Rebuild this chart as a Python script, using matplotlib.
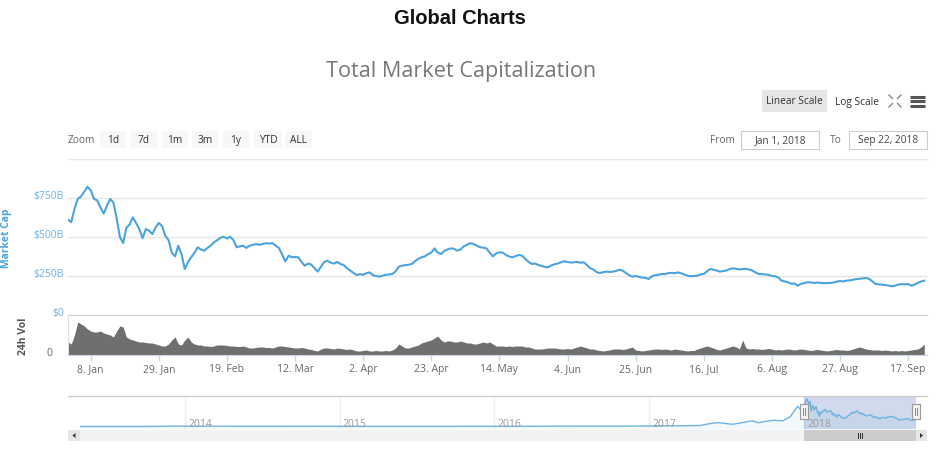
import pandas as pd
import matplotlib
matplotlib.use("Agg")
import matplotlib.pyplot as plt
import matplotlib.dates as mdates
from matplotlib.patches import Rectangle, Polygon
from matplotlib.transforms import ScaledTranslation

# ---------------- data ----------------
# total market cap, $B, daily from 1 Jan 2018
mcap = [611, 595, 680, 744, 760, 790, 822, 800, 744, 735,
        690, 650, 700, 744, 720, 620, 500, 461, 560, 580,
        626, 590, 550, 492, 551, 540, 519, 560, 590, 570,
        508, 480, 400, 376, 444, 390, 295, 340, 370, 400,
        434, 420, 412, 430, 445, 466, 480, 495, 502, 490,
        502, 480, 434, 440, 444, 430, 445, 449, 455, 450,
        455, 460, 458, 461, 445, 430, 390, 344, 380, 370,
        372, 370, 340, 316, 330, 323, 300, 278, 310, 340,
        348, 335, 330, 340, 327, 320, 300, 285, 270, 256,
        262, 258, 268, 273, 255, 250, 246, 252, 258, 260,
        263, 280, 310, 316, 320, 322, 327, 345, 360, 370,
        376, 390, 400, 427, 400, 391, 410, 420, 427, 425,
        412, 420, 440, 450, 461, 455, 445, 434, 432, 427,
        400, 376, 395, 402, 400, 385, 375, 370, 378, 385,
        380, 360, 340, 327, 330, 320, 315, 308, 306, 318,
        325, 330, 338, 344, 340, 336, 338, 340, 335, 338,
        320, 300, 291, 275, 269, 275, 278, 276, 278, 282,
        291, 284, 270, 255, 246, 250, 245, 240, 238, 231,
        248, 255, 258, 263, 262, 268, 270, 268, 273, 268,
        260, 252, 248, 250, 252, 260, 263, 280, 295, 290,
        285, 278, 282, 285, 295, 299, 296, 292, 295, 296,
        291, 285, 272, 263, 262, 260, 258, 250, 248, 240,
        220, 215, 210, 200, 202, 188, 200, 205, 210, 209,
        205, 208, 206, 204, 205, 205, 208, 214, 218, 215,
        220, 222, 226, 230, 232, 235, 237, 232, 215, 199,
        196, 195, 192, 188, 184, 188, 195, 198, 196, 199,
        188, 195, 205, 215, 220]

# 24h volume, $B, daily
vol = [26, 22, 40, 66, 62, 58, 52, 48, 46, 46,
       48, 44, 42, 40, 36, 48, 58, 56, 36, 32,
       30, 28, 26, 26, 25, 24, 24, 22, 20, 18,
       18, 22, 30, 36, 22, 20, 30, 36, 26, 22,
       20, 20, 18, 18, 17, 18, 20, 20, 20, 19,
       18, 18, 17, 17, 18, 16, 14, 14, 15, 16,
       16, 15, 15, 14, 16, 18, 18, 17, 16, 15,
       14, 14, 15, 14, 12, 11, 9, 8, 12, 14,
       14, 13, 12, 14, 13, 12, 11, 12, 10, 8,
       8, 9, 10, 8, 8, 9, 8, 8, 9, 8,
       10, 14, 22, 18, 14, 14, 16, 18, 20, 24,
       26, 28, 30, 34, 38, 30, 26, 28, 28, 26,
       26, 28, 26, 24, 24, 22, 22, 24, 26, 24,
       26, 22, 18, 18, 18, 17, 18, 17, 18, 18,
       18, 16, 16, 14, 12, 12, 12, 13, 14, 14,
       14, 13, 12, 12, 13, 12, 14, 16, 18, 16,
       14, 12, 12, 10, 9, 8, 9, 10, 12, 12,
       12, 11, 12, 14, 16, 10, 9, 8, 9, 10,
       11, 12, 12, 11, 12, 11, 10, 12, 11, 10,
       9, 8, 9, 9, 12, 14, 16, 18, 16, 14,
       11, 10, 12, 14, 16, 18, 16, 12, 30, 14,
       12, 13, 12, 12, 11, 12, 13, 12, 10, 11,
       10, 11, 12, 11, 10, 11, 12, 11, 10, 9,
       10, 11, 10, 9, 8, 9, 10, 11, 10, 10,
       9, 10, 12, 14, 16, 14, 12, 11, 10, 10,
       10, 9, 10, 9, 8, 9, 8, 9, 8, 9,
       10, 11, 12, 16, 22]

# older history for the navigator, $B
hist_dates = ["2013-04-28", "2013-06-01", "2013-08-01", "2013-10-01", "2013-11-15",
              "2013-12-04", "2014-01-01", "2014-03-01", "2014-06-01", "2014-09-01",
              "2014-12-01", "2015-03-01", "2015-06-01", "2015-09-01", "2015-12-01",
              "2016-03-01", "2016-06-15", "2016-09-01", "2016-12-01", "2017-01-05",
              "2017-03-01", "2017-04-01", "2017-05-01", "2017-05-25", "2017-06-12",
              "2017-07-16", "2017-08-01", "2017-09-01", "2017-09-15", "2017-10-01",
              "2017-10-20", "2017-11-12", "2017-11-30", "2017-12-08", "2017-12-17",
              "2017-12-22", "2017-12-31"]
hist_mcap = [1.5, 1.3, 1.2, 1.6, 5, 15, 10, 8, 8, 6.5,
             5.5, 3.8, 3.5, 3.9, 5.9, 6.9, 11.5, 10.8, 12.8, 17.7,
             21.5, 25, 30, 90, 115, 65, 100, 170, 110, 150,
             185, 170, 300, 450, 600, 520, 600]

mcap_ticks = [0, 250, 500, 750, 1000]
mcap_tick_labels = ["$0", "$250B", "$500B", "$750B", ""]
x_tick_dates = ["2018-01-08", "2018-01-29", "2018-02-19", "2018-03-12", "2018-04-02",
                "2018-04-23", "2018-05-14", "2018-06-04", "2018-06-25", "2018-07-16",
                "2018-08-06", "2018-08-27", "2018-09-17"]
x_tick_labels = ["8. Jan", "29. Jan", "19. Feb", "12. Mar", "2. Apr", "23. Apr", "14. May",
                 "4. Jun", "25. Jun", "16. Jul", "6. Aug", "27. Aug", "17. Sep"]
nav_years = [2014, 2015, 2016, 2017, 2018]
zoom_buttons = ["1d", "7d", "1m", "3m", "1y", "YTD", "ALL"]

dates = pd.date_range("2018-01-01", periods=len(mcap), freq="D")
nav_x = list(pd.to_datetime(hist_dates)) + list(dates)
nav_y = hist_mcap + mcap

BLUE = "#4aa3df"
UI = "Open Sans"

W, H = 939, 452
fig = plt.figure(figsize=(W / 100, H / 100), dpi=100)


def px_axes(x0, y0, x1, y1):
    return fig.add_axes([x0 / W, 1 - y1 / H, (x1 - x0) / W, (y1 - y0) / H])


# overlay in pixel coordinates for the page furniture
ui = fig.add_axes([0, 0, 1, 1])
ui.set_xlim(0, W)
ui.set_ylim(H, 0)
ui.axis("off")

ui.text(460, 19, "Global Charts", ha="center", va="center", fontsize=14.5,
        fontweight="bold", family="Liberation Sans", color="#111")
ui.text(461, 72, "Total Market Capitalization", ha="center", va="center",
        fontsize=15.6, family=UI, color="#777")

# scale buttons + icons
ui.add_patch(Rectangle((762, 91), 65, 22, color="#e6e6e6", lw=0))
ui.text(794.5, 102, "Linear Scale", ha="center", va="center", fontsize=7.3, family=UI, color="#333")
ui.text(857, 102, "Log Scale", ha="center", va="center", fontsize=7.3, family=UI, color="#333")
for sx, sy in [(-1, -1), (1, -1), (-1, 1), (1, 1)]:
    cx, cy = 895, 102
    ui.plot([cx + sx * 2.5, cx + sx * 6], [cy + sy * 2.5, cy + sy * 6], color="#888", lw=1)
for yy in [97.5, 102, 106.5]:
    ui.plot([910, 925], [yy, yy], color="#555", lw=2.2, solid_capstyle="butt")

# zoom buttons
ui.text(68, 140.5, "Zoom", ha="left", va="center", fontsize=7.3, family=UI, color="#666")
bx = [100, 131, 162, 192, 223, 254, 285]
bw = [26, 26, 26, 26, 26, 28, 27]
for lab, x0, w in zip(zoom_buttons, bx, bw):
    ui.add_patch(Rectangle((x0, 132), w, 17, color="#f7f7f7", lw=0))
    ui.text(x0 + w / 2, 140.5, lab, ha="center", va="center", fontsize=7.3, family=UI, color="#333")

# date inputs
ui.text(735, 140.5, "From", ha="right", va="center", fontsize=7.3, family=UI, color="#666")
ui.add_patch(Rectangle((741, 132), 78, 18, facecolor="white", edgecolor="#cccccc", lw=0.8))
ui.text(780, 141, "Jan 1, 2018", ha="center", va="center", fontsize=7.3, family=UI, color="#444")
ui.text(842, 140.5, "To", ha="right", va="center", fontsize=7.3, family=UI, color="#666")
ui.add_patch(Rectangle((849, 132), 78, 18, facecolor="white", edgecolor="#cccccc", lw=0.8))
ui.text(888, 141, "Sep 22, 2018", ha="center", va="center", fontsize=7.3, family=UI, color="#444")

# axis titles
ui.text(6.5, 238, "Market Cap", rotation=90, ha="center", va="center", fontsize=7.5,
        fontweight="bold", family=UI, color=BLUE)
ui.text(23, 336, "24h Vol", rotation=90, ha="center", va="center", fontsize=7.5,
        fontweight="bold", family=UI, color="#555")

x_start = pd.Timestamp("2018-01-01")
x_end = pd.Timestamp("2018-09-22 20:00")
up = ScaledTranslation(0, 0.04, fig.dpi_scale_trans)

# ---------------- market cap pane ----------------
ax = px_axes(68, 160, 927, 316)
ax.plot(dates, mcap, color=BLUE, lw=1.5)
ax.set_xlim(x_start, x_end)
ax.set_ylim(0, 1000)
ax.set_yticks(mcap_ticks)
ax.set_yticklabels(mcap_tick_labels)
ax.set_xticks([])
ax.grid(axis="y", color="#e6e6e6", lw=1)
ax.set_axisbelow(True)
ax.tick_params(axis="y", length=0, pad=3, labelsize=7.5, labelcolor="#6fb0e6")
for lbl in ax.get_yticklabels():
    lbl.set_family(UI)
    lbl.set_transform(lbl.get_transform() + up)
for s in ["left", "right"]:
    ax.spines[s].set_visible(False)
ax.spines["top"].set_color("#e6e6e6")
ax.spines["bottom"].set_color("#cccccc")
ax.patch.set_alpha(0)

# ---------------- volume pane ----------------
vx = px_axes(68, 316, 927, 356)
vx.fill_between(dates, vol, color="#6f6f6f", lw=0)
vx.set_xlim(x_start, x_end)
vx.set_ylim(0, 80)
vx.set_yticks([0])
vx.set_yticklabels(["0"])
vx.tick_params(axis="y", length=0, pad=11, labelsize=7.5, labelcolor="#666")
for lbl in vx.get_yticklabels():
    lbl.set_family(UI)
    lbl.set_transform(lbl.get_transform() + up)
vx.set_xticks(pd.to_datetime(x_tick_dates))
vx.set_xticklabels(x_tick_labels)
vx.tick_params(axis="x", length=4, width=1, color="#ccd6eb", pad=2, labelsize=7.5, labelcolor="#666")
for lbl in vx.get_xticklabels():
    lbl.set_family(UI)
for s in ["top", "right"]:
    vx.spines[s].set_visible(False)
vx.spines["left"].set_color("#e0e0e0")
vx.spines["bottom"].set_color("#ccd6eb")
vx.patch.set_alpha(0)

# ---------------- navigator ----------------
nx = px_axes(80, 397, 916, 430)
nav_start = pd.Timestamp("2013-04-28")
nav_end = dates[-1]
nx.set_xlim(nav_start, nav_end)
nx.set_ylim(-74, 904)
for yr in nav_years:
    d = pd.Timestamp(f"{yr}-01-01")
    nx.axvline(d, color="#eeeeee", lw=1, zorder=0)
    nx.annotate(str(yr), xy=(d, 0.18), xycoords=("data", "axes fraction"), xytext=(2.2, 0),
                textcoords="offset points", ha="left", va="center", fontsize=7.5,
                family=UI, color="#999")
nx.fill_between(nav_x, nav_y, -74, color=BLUE, alpha=0.07, lw=0)
nx.plot(nav_x, nav_y, color="#6fb3e3", lw=1)
nx.axvspan(x_start, nav_end, color="#6685c2", alpha=0.3, lw=0)
nx.set_xticks([])
nx.set_yticks([])
for s in nx.spines.values():
    s.set_visible(False)
nx.patch.set_alpha(0)

ui.plot([68, 927], [397, 397], color="#cccccc", lw=1)

# handle / thumb positions from the navigator scale
def nav_px(d):
    return nx.transData.transform((mdates.date2num(d), 0))[0]

hx0 = nav_px(x_start)
hx1 = nav_px(nav_end)

# scrollbar
ui.add_patch(Rectangle((68, 431), 859, 11, color="#f2f2f2", lw=0))
ui.add_patch(Rectangle((hx0, 431), hx1 - hx0, 11, color="#cccccc", lw=0))
ui.add_patch(Rectangle((68, 431), 12, 11, color="#e6e6e6", lw=0))
ui.add_patch(Rectangle((916, 431), 11, 11, color="#e6e6e6", lw=0))
ui.add_patch(Polygon([[75.5, 434], [75.5, 439], [72.5, 436.5]], color="#333", lw=0))
ui.add_patch(Polygon([[920, 434], [920, 439], [923, 436.5]], color="#333", lw=0))
mid = (hx0 + hx1) / 2
for dx in [-2, 0, 2]:
    ui.plot([mid + dx, mid + dx], [434, 439], color="#333", lw=0.7)

# handles
for hx in [hx0, hx1]:
    ui.add_patch(Rectangle((hx - 4, 405), 8, 15, facecolor="#f2f2f2", edgecolor="#999", lw=0.8, zorder=5))
    for dx in [-1, 1]:
        ui.plot([hx + dx, hx + dx], [409, 416], color="#777", lw=0.6, zorder=6)

ax.set_zorder(1)
vx.set_zorder(1)
nx.set_zorder(1)
ui.set_zorder(2)
ui.patch.set_alpha(0)

fig.savefig("out.png", dpi=100)
